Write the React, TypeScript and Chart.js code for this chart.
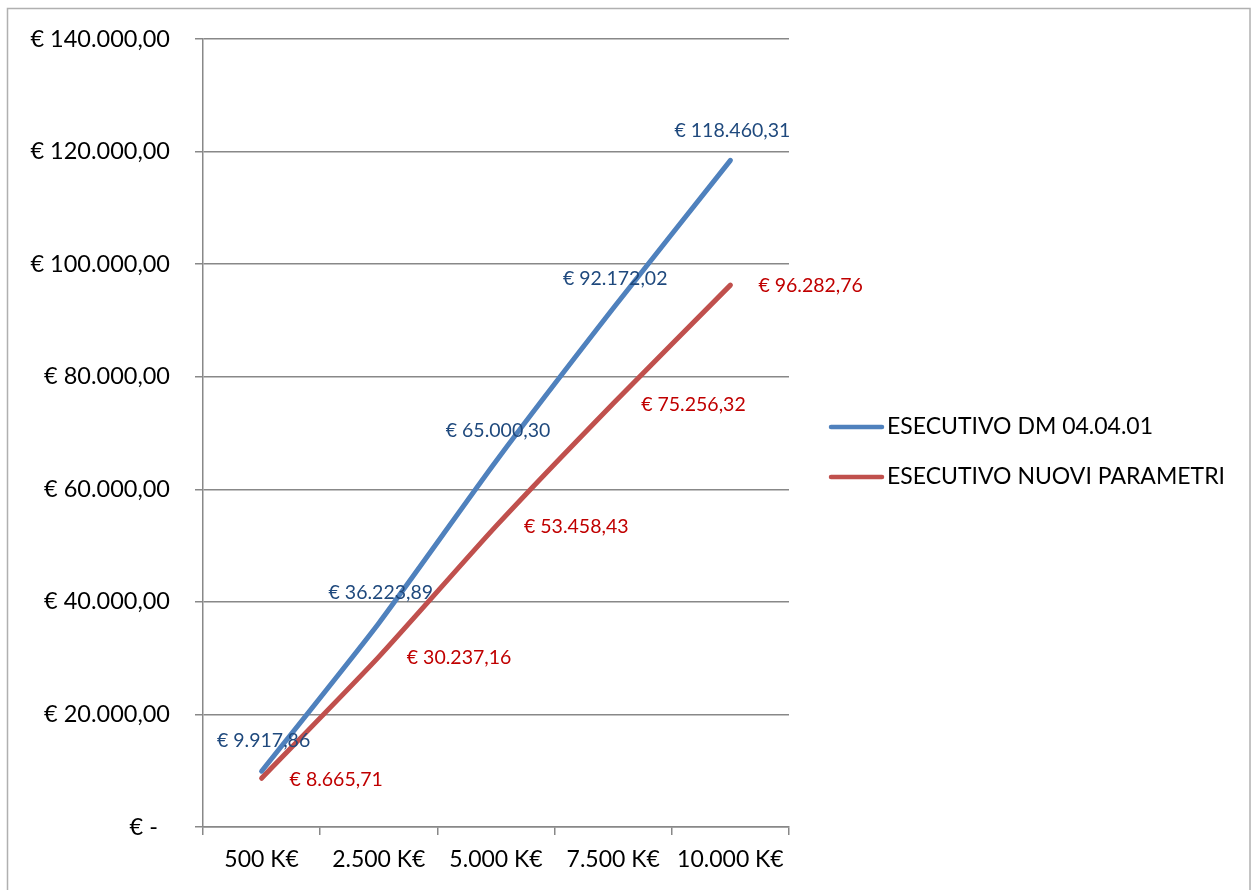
import React, { useEffect, useRef } from "react";
import { Chart, registerables } from "chart.js";

Chart.register(...registerables);

const categories = ["500 K€", "2.500 K€", "5.000 K€", "7.500 K€", "10.000 K€"];
const seriesNames = ["ESECUTIVO DM 04.04.01", "ESECUTIVO NUOVI PARAMETRI"];
const dmValues = [9917.86, 36223.89, 65000.3, 92172.02, 118460.31];
const nuoviValues = [8665.71, 30237.16, 53458.43, 75256.32, 96282.76];
const yMin = 0;
const yMax = 140000;
const yStep = 20000;

const FONT = "Lato, 'Open Sans', sans-serif";

function euro(v: number): string {
  if (v === 0) return "€ -  ";
  const fixed = v.toFixed(2);
  const [intPart, dec] = fixed.split(".");
  const withDots = intPart.replace(/\B(?=(\d{3})+(?!\d))/g, ".");
  return "€ " + withDots + "," + dec;
}

const labelPlugin = {
  id: "dataLabels",
  afterDatasetsDraw(chart: any) {
    const ctx = chart.ctx;
    ctx.save();
    ctx.font = `19.5px ${FONT}`;
    chart.data.datasets.forEach((ds: any, di: number) => {
      const meta = chart.getDatasetMeta(di);
      meta.data.forEach((pt: any, i: number) => {
        const txt = euro(ds.data[i]);
        if (di === 0) {
          ctx.fillStyle = "#1F497D";
          ctx.textAlign = "center";
          ctx.textBaseline = "middle";
          ctx.fillText(txt, pt.x + 2, pt.y - 30);
        } else {
          ctx.fillStyle = "#C00000";
          ctx.textAlign = "left";
          ctx.textBaseline = "middle";
          ctx.fillText(txt, pt.x + 28, pt.y + 1);
        }
      });
    });
    ctx.restore();
  },
};

const legendPlugin = {
  id: "customLegend",
  afterDraw(chart: any) {
    const ctx = chart.ctx;
    ctx.save();
    ctx.font = `23px ${FONT}`;
    ctx.textBaseline = "middle";
    ctx.textAlign = "left";
    const x0 = 831;
    const ys = [427, 477];
    chart.data.datasets.forEach((ds: any, di: number) => {
      const y = ys[di];
      ctx.strokeStyle = ds.borderColor;
      ctx.lineWidth = 4.5;
      ctx.lineCap = "round";
      ctx.beginPath();
      ctx.moveTo(x0, y);
      ctx.lineTo(x0 + 51, y);
      ctx.stroke();
      ctx.fillStyle = "#000";
      ctx.fillText(ds.label, 887, y);
    });
    ctx.restore();
  },
};

const borderPlugin = {
  id: "outerBorder",
  afterDraw(chart: any) {
    const ctx = chart.ctx;
    ctx.save();
    ctx.strokeStyle = "#b0b0b0";
    ctx.lineWidth = 1.5;
    ctx.strokeRect(7.5, 8.5, 1242.5, 900);
    ctx.restore();
  },
};

export default function App() {
  const canvasRef = useRef<HTMLCanvasElement | null>(null);

  useEffect(() => {
    if (!canvasRef.current) return;
    const chart = new Chart(canvasRef.current, {
      type: "line",
      data: {
        labels: categories,
        datasets: [
          {
            label: seriesNames[0],
            data: dmValues,
            borderColor: "#4F81BD",
            backgroundColor: "#4F81BD",
            borderWidth: 5,
            pointRadius: 0,
            tension: 0.2,
            borderCapStyle: "round",
            borderJoinStyle: "round",
          },
          {
            label: seriesNames[1],
            data: nuoviValues,
            borderColor: "#C0504D",
            backgroundColor: "#C0504D",
            borderWidth: 5,
            pointRadius: 0,
            tension: 0.2,
            borderCapStyle: "round",
            borderJoinStyle: "round",
          },
        ],
      },
      options: {
        responsive: false,
        animation: false,
        layout: { padding: { top: 38, right: 462, bottom: 0, left: 0 } },
        plugins: {
          legend: { display: false },
          tooltip: { enabled: false },
        },
        scales: {
          x: {
            type: "category",
            offset: true,
            grid: {
              offset: true,
              drawOnChartArea: false,
              drawTicks: true,
              tickLength: 8,
              color: "#888888",
              lineWidth: 1.5,
            },
            border: { display: true, color: "#888888", width: 1.5 },
            ticks: {
              color: "#000",
              font: { family: FONT, size: 23 },
              padding: 11,
              maxRotation: 0,
              autoSkip: false,
            },
            afterFit(scale: any) {
              scale.height = 63;
            },
          },
          y: {
            min: yMin,
            max: yMax,
            ticks: {
              stepSize: yStep,
              color: "#000",
              font: { family: FONT, size: 23.5 },
              padding: 25,
              callback: (v: any) => euro(Number(v)),
            },
            grid: {
              color: "#888888",
              lineWidth: 1.5,
              tickLength: 8,
              drawTicks: true,
            },
            border: { display: true, color: "#888888", width: 1.5 },
            afterFit(scale: any) {
              scale.width = 203;
            },
          },
        },
      },
      plugins: [labelPlugin, legendPlugin, borderPlugin],
    });
    return () => chart.destroy();
  }, []);

  return (
    <div style={{ position: "fixed", left: 0, top: 0, width: 1251, height: 890, background: "#fff" }}>
      <canvas ref={canvasRef} width={1251} height={890} style={{ width: 1251, height: 890, display: "block" }} />
    </div>
  );
}
